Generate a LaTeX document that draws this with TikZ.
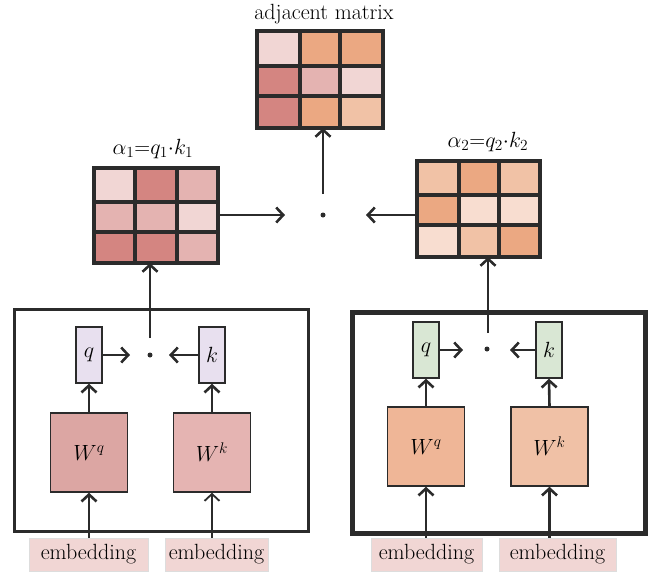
\RequirePackage{fix-cm}
\documentclass[tikz,border=0pt]{standalone}
\usepackage{fontspec}
\usetikzlibrary{arrows.meta,fit}
\definecolor{ink}{HTML}{2B2B2B}
\definecolor{pinkA}{HTML}{F1D6D4}
\definecolor{pinkB}{HTML}{E4B3B1}
\definecolor{pinkC}{HTML}{D48581}
\definecolor{orA}{HTML}{F8DDD0}
\definecolor{orB}{HTML}{F1C2A6}
\definecolor{orC}{HTML}{EBA882}
\definecolor{lav}{HTML}{E8E0EF}
\definecolor{mint}{HTML}{D9E7D4}
\definecolor{wqA}{HTML}{DCA6A3}
\definecolor{wkA}{HTML}{E5B4B2}
\definecolor{wqB}{HTML}{EFB697}
\definecolor{wkB}{HTML}{F0C1A6}
\definecolor{embfill}{HTML}{F1D6D4}
\definecolor{embline}{HTML}{DDDDDD}
\begin{document}
\begin{tikzpicture}[x=1pt,y=-1pt,
  font=\fontsize{22}{25}\selectfont,
  conn/.style={draw=ink, line width=2.6pt,
    -{Straight Barb[length=7pt,width=15pt,line width=2.6pt]}},
  thinconn/.style={draw=ink, line width=1.8pt,
    -{Straight Barb[length=7pt,width=15pt,line width=1.8pt]}},
  gridline/.style={draw=ink, line width=3.6pt},
  holder/.style={inner sep=0pt, outer sep=0pt},
  vecbox/.style={draw=ink, line width=1.4pt, minimum width=26pt, minimum height=56pt, inner sep=0pt},
  wbox/.style={draw=ink, line width=1.4pt, minimum width=77pt, minimum height=79pt, inner sep=0pt},
  embbox/.style={draw=embline, line width=0.8pt, fill=embfill, minimum height=33pt, inner sep=0pt},
  dotnode/.style={circle, fill=ink, inner sep=0pt, minimum size=5pt},
  frameA/.style={draw=ink, line width=3pt, inner sep=0pt},
  frameB/.style={draw=ink, line width=5pt, inner sep=0pt}]
\useasboundingbox (0,0) rectangle (654,571);

% ---------- adjacent matrix ----------
\foreach \ya/\yb/\ca/\cb/\cc in {31/66/pinkA/orC/orC, 66/96/pinkC/pinkB/pinkA, 96/128/pinkC/orC/orB} {
  \fill[\ca] (257,\ya) rectangle (300,\yb);
  \fill[\cb] (300,\ya) rectangle (340,\yb);
  \fill[\cc] (340,\ya) rectangle (383,\yb);
}
\draw[gridline] (257,31) rectangle (383,128) (300,31) -- (300,128) (340,31) -- (340,128)
  (257,66) -- (383,66) (257,96) -- (383,96);
\node[holder, fit={(257,31) (383,128)}] (adj) {};
\node (adjlabel) at (324,14) {adjacent matrix};

% ---------- alpha_1 ----------
\foreach \ya/\yb/\ca/\cb/\cc in {168/202/pinkA/pinkC/pinkB, 202/232/pinkB/pinkB/pinkA, 232/263/pinkC/pinkC/pinkB} {
  \fill[\ca] (94,\ya) rectangle (135,\yb);
  \fill[\cb] (135,\ya) rectangle (177,\yb);
  \fill[\cc] (177,\ya) rectangle (218,\yb);
}
\draw[gridline] (94,168) rectangle (218,263) (135,168) -- (135,263) (177,168) -- (177,263)
  (94,202) -- (218,202) (94,232) -- (218,232);
\node[holder, fit={(94,168) (218,263)}] (A1) {};
\node (A1label) at (153,149) {$\alpha_1{=}q_1{\cdot}k_1$};

% ---------- alpha_2 ----------
\foreach \ya/\yb/\ca/\cb/\cc in {161/195/orB/orC/orB, 195/225/orC/orA/orA, 225/257/orA/orB/orC} {
  \fill[\ca] (417,\ya) rectangle (459,\yb);
  \fill[\cb] (459,\ya) rectangle (499,\yb);
  \fill[\cc] (499,\ya) rectangle (540,\yb);
}
\draw[gridline] (417,161) rectangle (540,257) (459,161) -- (459,257) (499,161) -- (499,257)
  (417,195) -- (540,195) (417,225) -- (540,225);
\node[holder, fit={(417,161) (540,257)}] (A2) {};
\node (A2label) at (488,142) {$\alpha_2{=}q_2{\cdot}k_2$};

% ---------- combining the two scores ----------
\node[dotnode] (dotc) at (323,215) {};
\coordinate (tipL) at (285,215);
\coordinate (tipR) at (366,215);
\coordinate (vtop) at (323,194);
\draw[conn] (A1.east |- dotc) -- (tipL);
\draw[conn] (A2.west |- dotc) -- (tipR);
\draw[conn] (vtop) -- (vtop |- adj.south);

% ---------- left block ----------
\node[frameA, fit={(14,309) (308,531)}] (box1) {};
\node[vecbox, fill=lav] (q1) at (89,355) {$q$};
\node[vecbox, fill=lav] (k1) at (212,355) {$k$};
\node[wbox, fill=wqA] (Wq1) at (89,452.5) {$W^q$};
\node[wbox, fill=wkA] (Wk1) at (212,452.5) {$W^k$};
\node[dotnode] (d1) at (150,355) {};
\node[embbox, minimum width=119pt] (e1) at (88.5,554.5) {embedding};
\node[embbox, minimum width=103pt] (e2) at (216.5,554.5) {embedding};
\coordinate (t1q) at (130,355);
\coordinate (t1k) at (169,355);
\coordinate (up1) at (150,338);
\draw[conn] (q1.east) -- (t1q);
\draw[conn] (k1.west) -- (t1k);
\draw[conn] (Wq1.north) -- (q1.south);
\draw[conn] (Wk1.north) -- (k1.south);
\draw[conn] (Wq1.south |- e1.north) -- (Wq1.south);
\draw[thinconn] (Wk1.south |- e2.north) -- (Wk1.south);
\draw[conn] (up1) -- (up1 |- A1.south);

% ---------- right block ----------
\node[frameB, fit={(352,312) (645,533)}] (box2) {};
\node[vecbox, fill=mint] (q2) at (426,350) {$q$};
\node[vecbox, fill=mint] (k2) at (549,350) {$k$};
\node[wbox, fill=wqB] (Wq2) at (426,446.5) {$W^q$};
\node[wbox, fill=wkB] (Wk2) at (549.5,446.5) {$W^k$};
\node[dotnode] (d2) at (487,349) {};
\node[embbox, minimum width=111pt] (e3) at (426.5,554.5) {embedding};
\node[embbox, minimum width=117pt] (e4) at (557.5,554.5) {embedding};
\coordinate (t2q) at (463,350);
\coordinate (t2k) at (510,350);
\coordinate (up2) at (488,333);
\draw[conn] (q2.east) -- (t2q);
\draw[conn] (k2.west) -- (t2k);
\draw[conn] (Wq2.north) -- (q2.south);
\draw[conn] (Wk2.north) -- (k2.south);
\draw[conn] (Wq2.south |- e3.north) -- (Wq2.south);
\draw[conn] (Wk2.south |- e4.north) -- (Wk2.south);
\draw[conn] (up2) -- (up2 |- A2.south);
\end{tikzpicture}
\end{document}
